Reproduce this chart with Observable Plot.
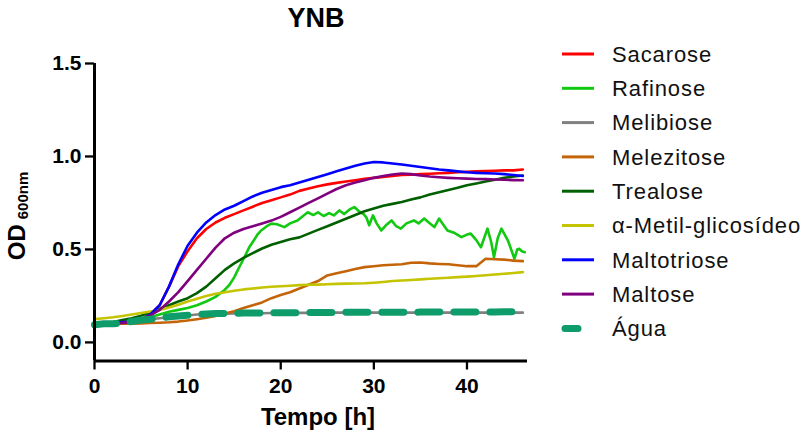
<!DOCTYPE html>
<html><head><meta charset="utf-8">
<script src="https://cdn.jsdelivr.net/npm/d3@7"></script>
<script src="https://cdn.jsdelivr.net/npm/@observablehq/plot@0.6"></script>
<style>body{margin:0;background:#fff}</style>
</head><body><div id="chart"></div>
<script>
const series = ["Sacarose","Rafinose","Melibiose","Melezitose","Trealose","α-Metil-glicosídeo","Maltotriose","Maltose","Água"];
const colors = ["#ff0000","#11c911","#808080","#c46408","#006000","#c4c400","#0000ff","#800080","#0e9c6a"];
const xTicks = [0,10,20,30,40];
const yTicks = [0,0.5,1.0,1.5];
const tempo = [0,1,2,3,4,5,6,7,8,9,10,11,12,13,14,15,16,17,18,19,20,21,22,23,24,25,26,27,28,29,30,31,32,33,34,35,36,37,38,39,40,41,42,43,44,45,46];
const sacarose = [0.10,0.10,0.105,0.11,0.115,0.125,0.15,0.20,0.30,0.41,0.49,0.56,0.61,0.645,0.67,0.69,0.71,0.73,0.75,0.765,0.78,0.795,0.815,0.828,0.84,0.85,0.858,0.865,0.872,0.88,0.885,0.89,0.895,0.90,0.902,0.905,0.907,0.91,0.912,0.915,0.917,0.92,0.922,0.923,0.925,0.925,0.93];
const rafinoseT = [0,2,4,6,7,8,9,10,11,12,13,13.9,14.5,15,15.5,16.1,16.6,17.1,17.5,17.9,18.5,19,19.6,20.4,21,21.8,22.4,22.9,23.5,24,24.6,25.2,25.7,26.3,26.8,27.4,27.9,28.4,28.9,29.2,29.5,29.9,30.3,30.8,31.3,31.9,32.4,32.9,33.5,34.3,34.8,35.4,35.9,36.5,37,37.5,37.9,38.6,39.4,40,40.4,41,41.5,42.2,42.6,42.9,43.3,43.7,44.4,45.1,45.4,45.6,45.9,46.2];
const rafinose = [0.10,0.105,0.115,0.135,0.15,0.165,0.175,0.185,0.20,0.22,0.245,0.279,0.31,0.35,0.40,0.458,0.51,0.548,0.58,0.602,0.625,0.639,0.635,0.62,0.64,0.656,0.68,0.70,0.685,0.70,0.68,0.695,0.683,0.71,0.69,0.715,0.728,0.705,0.69,0.672,0.63,0.683,0.64,0.602,0.63,0.656,0.625,0.612,0.64,0.656,0.64,0.666,0.645,0.62,0.666,0.63,0.602,0.59,0.566,0.58,0.585,0.55,0.512,0.612,0.54,0.458,0.56,0.612,0.548,0.45,0.50,0.504,0.49,0.485];
const melibiose = [0.10,0.10,0.105,0.11,0.115,0.12,0.125,0.13,0.135,0.14,0.145,0.15,0.152,0.154,0.155,0.156,0.156,0.157,0.157,0.158,0.158,0.158,0.159,0.159,0.16,0.16,0.16,0.16,0.16,0.16,0.16,0.16,0.16,0.16,0.16,0.16,0.16,0.16,0.16,0.16,0.16,0.16,0.16,0.16,0.16,0.16,0.16];
const melezitose = [0.10,0.10,0.10,0.10,0.10,0.102,0.104,0.106,0.108,0.112,0.118,0.125,0.133,0.142,0.155,0.168,0.185,0.20,0.215,0.238,0.255,0.27,0.29,0.31,0.33,0.36,0.372,0.383,0.395,0.405,0.41,0.415,0.418,0.42,0.428,0.43,0.425,0.422,0.42,0.415,0.41,0.41,0.45,0.447,0.445,0.44,0.437];
const trealose = [0.10,0.105,0.11,0.12,0.13,0.144,0.16,0.18,0.20,0.22,0.238,0.265,0.30,0.345,0.39,0.425,0.455,0.48,0.505,0.525,0.54,0.555,0.565,0.585,0.605,0.625,0.645,0.665,0.685,0.705,0.72,0.735,0.745,0.755,0.768,0.78,0.795,0.808,0.82,0.832,0.845,0.855,0.865,0.875,0.885,0.892,0.898];
const metilGlicosideo = [0.125,0.13,0.135,0.142,0.15,0.158,0.166,0.175,0.188,0.203,0.22,0.235,0.25,0.262,0.27,0.278,0.285,0.29,0.295,0.299,0.302,0.305,0.308,0.31,0.311,0.313,0.315,0.316,0.317,0.318,0.321,0.325,0.33,0.333,0.336,0.339,0.342,0.345,0.348,0.351,0.354,0.357,0.361,0.365,0.369,0.373,0.378];
const maltotriose = [0.10,0.10,0.105,0.11,0.11,0.12,0.15,0.20,0.30,0.42,0.52,0.59,0.645,0.685,0.715,0.735,0.76,0.785,0.805,0.82,0.835,0.845,0.86,0.875,0.89,0.905,0.92,0.935,0.95,0.962,0.97,0.968,0.962,0.957,0.95,0.943,0.937,0.93,0.925,0.92,0.915,0.912,0.91,0.908,0.905,0.90,0.895];
const maltose = [0.10,0.10,0.10,0.105,0.11,0.12,0.145,0.175,0.22,0.27,0.33,0.39,0.45,0.51,0.56,0.59,0.61,0.625,0.64,0.655,0.675,0.70,0.725,0.75,0.775,0.80,0.825,0.845,0.86,0.872,0.885,0.895,0.903,0.908,0.905,0.898,0.892,0.888,0.885,0.883,0.881,0.879,0.878,0.876,0.875,0.873,0.872];
const agua = [0.095,0.10,0.10,0.105,0.112,0.12,0.125,0.13,0.138,0.142,0.146,0.15,0.153,0.155,0.156,0.157,0.158,0.158,0.159,0.16,0.16,0.16,0.16,0.161,0.161,0.161,0.161,0.162,0.162,0.162,0.162,0.162,0.162,0.162,0.162,0.163,0.163,0.163,0.163,0.163,0.164,0.164,0.164,0.164,0.165,0.165,0.165];

const defs = [
  [series[0], tempo, sacarose],
  [series[1], rafinoseT, rafinose],
  [series[2], tempo, melibiose],
  [series[3], tempo, melezitose],
  [series[4], tempo, trealose],
  [series[5], tempo, metilGlicosideo],
  [series[6], tempo, maltotriose],
  [series[7], tempo, maltose],
  [series[8], tempo, agua]
];
const rows = [];
for (const [s, ts, vs] of defs) ts.forEach((t, i) => rows.push({serie: s, t, v: vs[i]}));

const ff = "'Liberation Sans', Arial, sans-serif";
const plot = Plot.plot({
  width: 808, height: 432,
  marginLeft: 94, marginRight: 281, marginTop: 63, marginBottom: 71.5,
  x: {domain: [0, 46.5]},
  y: {domain: [-0.1, 1.5]},
  color: {domain: series, range: colors},
  style: {fontFamily: ff, background: "white", color: "black"},
  marks: [
    Plot.axisX({ticks: xTicks, tickSize: 9, tickPadding: 8, fontSize: 21, fontWeight: "bold", strokeWidth: 2.3, label: null}),
    Plot.axisY({ticks: yTicks, tickSize: 9, tickPadding: 4, fontSize: 21, fontWeight: "bold", strokeWidth: 2.3, label: null, tickFormat: d3.format(".1f")}),
    Plot.line(rows.filter(d => d.serie !== "Água"), {x: "t", y: "v", z: "serie", stroke: "serie", strokeWidth: 2.6}),
    Plot.line(rows.filter(d => d.serie === "Água"), {x: "t", y: "v", stroke: "serie", strokeWidth: 7, strokeDasharray: "22,14", strokeLinecap: "round"}),
    Plot.ruleX([0], {strokeWidth: 3}),
    Plot.ruleY([-0.1], {strokeWidth: 3})
  ]
});

const svg = d3.select(plot);
svg.append("text").attr("x", 316).attr("y", 27).attr("text-anchor", "middle")
  .attr("font-size", 27).attr("font-weight", "bold").text("YNB");
svg.append("text").attr("x", 318).attr("y", 425).attr("text-anchor", "middle")
  .attr("font-size", 24).attr("font-weight", "bold").text("Tempo [h]");
const yl = svg.append("text").attr("transform", "translate(25,216) rotate(-90)")
  .attr("text-anchor", "middle").attr("font-weight", "bold");
yl.append("tspan").attr("font-size", 24).text("OD");
yl.append("tspan").attr("font-size", 15).attr("dx", 5).attr("dy", 3).text("600nm");

const color = plot.scale("color");
const lg = svg.append("g");
series.forEach((s, i) => {
  const y = 54 + i * 34.3;
  const c = color.apply(s);
  if (s === "Água") {
    lg.append("line").attr("x1", 565).attr("x2", 578).attr("y1", y).attr("y2", y)
      .attr("stroke", c).attr("stroke-width", 7).attr("stroke-linecap", "round");
  } else {
    lg.append("line").attr("x1", 562).attr("x2", 594).attr("y1", y).attr("y2", y)
      .attr("stroke", c).attr("stroke-width", 3);
  }
  lg.append("text").attr("x", 612).attr("y", y).attr("dy", "0.35em")
    .attr("text-anchor", "start")
    .attr("font-size", 22).attr("letter-spacing", "0.9px").attr("fill", "#111").text(s);
});

document.getElementById("chart").append(plot);
</script>
</body></html>
